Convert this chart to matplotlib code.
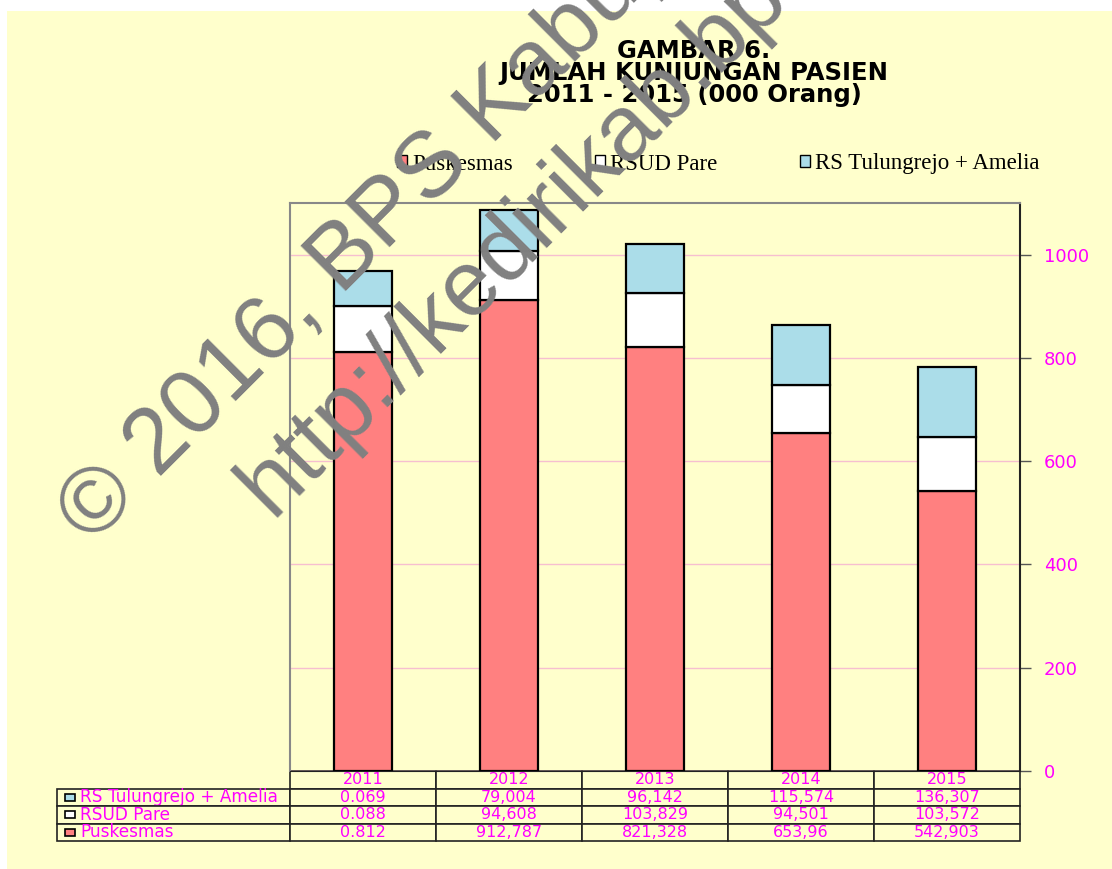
import numpy as np
import matplotlib.pyplot as plt
from matplotlib.patches import Patch, Rectangle
from matplotlib.table import Table

# --- data (000 orang) ---
years = ['2011', '2012', '2013', '2014', '2015']
puskesmas = [812, 912.787, 821.328, 653.96, 542.903]
rsud_pare = [88, 94.608, 103.829, 94.501, 103.572]
rs_tulungrejo = [69, 79.004, 96.142, 115.574, 136.307]

# table text as printed in the source sheet
tbl_tulungrejo = ['0.069', '79,004', '96,142', '115,574', '136,307']
tbl_rsud = ['0.088', '94,608', '103,829', '94,501', '103,572']
tbl_puskesmas = ['0.812', '912,787', '821,328', '653,96', '542,903']

series_names = ['Puskesmas', 'RSUD Pare', 'RS Tulungrejo + Amelia']
row_labels = ['RS Tulungrejo + Amelia', 'RSUD Pare', 'Puskesmas']

# --- style ---
YELLOW = '#FFFFCC'
RED = '#FF8080'
WHITE = '#FFFFFF'
BLUE = '#ABDDE9'
MAGENTA = '#FF00FF'
W, H = 1112, 869

fig = plt.figure(figsize=(W / 100, H / 100), dpi=100)
fig.patch.set_facecolor('white')
fig.patches.append(Rectangle((7 / W, 0), 1, 1 - 11 / H, transform=fig.transFigure,
                             facecolor=YELLOW, edgecolor='none', zorder=-10))

ax = fig.add_axes([290 / W, 98 / H, 730 / W, 568 / H])
ax.set_facecolor(YELLOW)

x = np.arange(len(years))
bw = 0.4
bottom2 = np.array(puskesmas)
bottom3 = bottom2 + np.array(rsud_pare)
ax.bar(x, puskesmas, bw, color=RED, edgecolor='black', lw=1.6, zorder=3)
ax.bar(x, rsud_pare, bw, bottom=bottom2, color=WHITE, edgecolor='black', lw=1.6, zorder=3)
ax.bar(x, rs_tulungrejo, bw, bottom=bottom3, color=BLUE, edgecolor='black', lw=1.6, zorder=3)

ax.set_xlim(-0.5, len(years) - 0.5)
ax.set_ylim(0, 1100)
ax.set_xticks([])
ax.yaxis.tick_right()
ax.set_yticks(range(0, 1001, 200))
ax.tick_params(axis='y', direction='out', length=8, width=1, color='#555555',
               labelcolor=MAGENTA, labelsize=13, pad=9)
ax.grid(axis='y', color='#F6BFD0', lw=1)
ax.set_axisbelow(True)
for s in ['left', 'top']:
    ax.spines[s].set_color('#888888')
    ax.spines[s].set_linewidth(1.5)
ax.spines['right'].set_color('#222222')
ax.spines['right'].set_linewidth(1.5)
ax.spines['bottom'].set_color('#222222')

# --- data table under the axis ---
rl_w = 233 / 730
cw = 1 / len(years)
tbl = Table(ax, bbox=[-rl_w, -70 / 568, 1 + rl_w, 70 / 568])
corner = tbl.add_cell(0, 0, rl_w, 1, text='', facecolor=YELLOW)
for j, yr in enumerate(years):
    tbl.add_cell(0, j + 1, cw, 1, text=yr, loc='center', facecolor=YELLOW)
for i, (lab, vals) in enumerate(zip(row_labels, [tbl_tulungrejo, tbl_rsud, tbl_puskesmas])):
    tbl.add_cell(i + 1, 0, rl_w, 1, text=lab, loc='left', facecolor=YELLOW)
    for j, v in enumerate(vals):
        tbl.add_cell(i + 1, j + 1, cw, 1, text=v, loc='center', facecolor=YELLOW)
tbl.auto_set_font_size(False)
tbl.set_fontsize(11.5)
for (r, c), cell in tbl.get_celld().items():
    cell.set_edgecolor('#222222')
    cell.set_linewidth(1.2)
    cell.get_text().set_color(MAGENTA)
    if c == 0:
        cell.get_text().set_fontsize(12.2)
corner.visible_edges = ''
ax.add_table(tbl)

# small keys in front of row labels
row_h = 70 / 568 / 4
for i, kc in enumerate([BLUE, WHITE, RED]):
    yc = -row_h * (i + 1.5)
    ax.add_patch(Rectangle((-rl_w + 8 / 730, yc - 3.5 / 568), 10 / 730, 7 / 568,
                           transform=ax.transAxes, facecolor=kc, edgecolor='black',
                           lw=1.2, clip_on=False, zorder=5))

# --- title & legend ---
fig.text(694 / W, 1 - 73 / H, 'GAMBAR 6.\nJUMLAH KUNJUNGAN PASIEN\n2011 - 2015 (000 Orang)',
         ha='center', va='center', fontsize=17.5, fontweight='bold',
         family='DejaVu Sans', linespacing=0.9)

handles = [Patch(facecolor=RED, edgecolor='black'),
           Patch(facecolor=WHITE, edgecolor='black'),
           Patch(facecolor=BLUE, edgecolor='black')]
fig.legend(handles, series_names, ncol=3, loc='center',
           bbox_to_anchor=(718 / W, 1 - 164 / H), frameon=False,
           prop={'family': 'Liberation Serif', 'size': 16.5},
           handlelength=0.45, handleheight=0.45, handletextpad=0.2, columnspacing=3.6)

# --- watermark ---
fig.text(92 / W, 1 - 546 / H, '\u00a9 2016, BPS Kabupaten Kediri', rotation=45,
         rotation_mode='anchor', ha='left', va='baseline', fontsize=67,
         color='#808080', family='Liberation Sans', zorder=100)
fig.text(271 / W, 1 - 518 / H, 'http://kedirikab.bps.go.id', rotation=45,
         rotation_mode='anchor', ha='left', va='baseline', fontsize=67,
         color='#808080', family='Liberation Sans', zorder=100)

fig.savefig('out.png', dpi=100, facecolor=fig.get_facecolor())
